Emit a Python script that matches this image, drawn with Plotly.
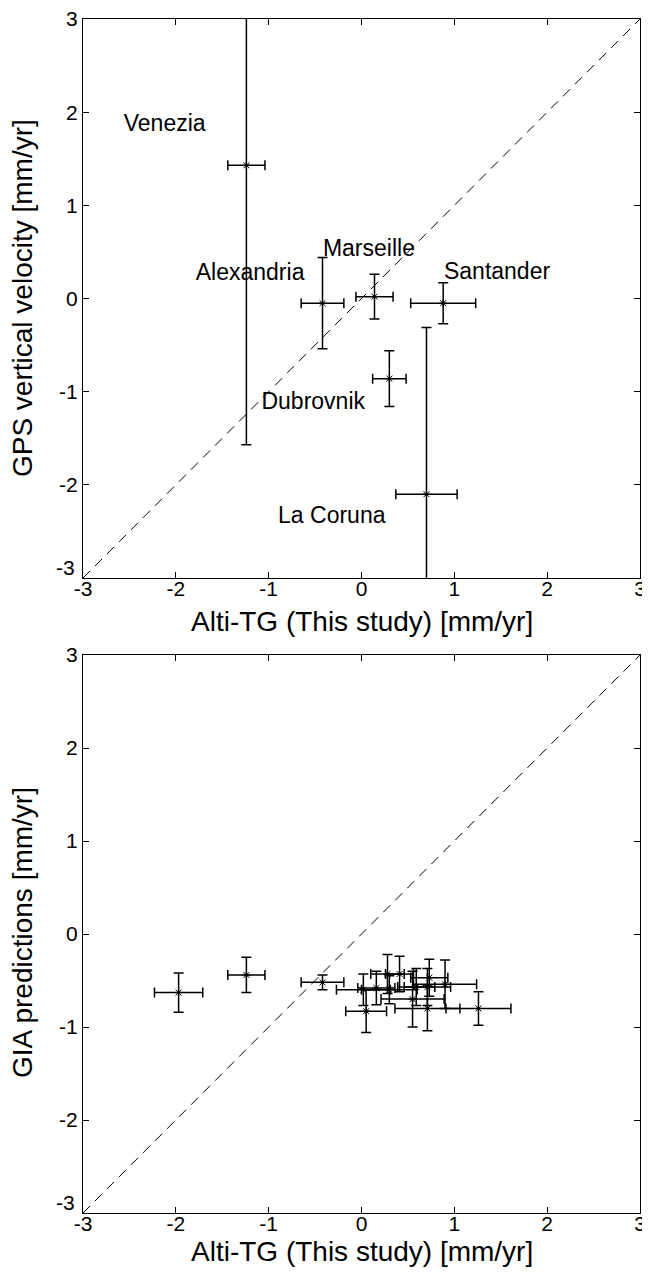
import plotly.graph_objects as go

# ---- Top panel: GPS vs Alti-TG ----
top_names = ["Venezia", "Alexandria", "Marseille", "Santander", "Dubrovnik", "La Coruna"]
top_x = [-1.24, -0.42, 0.14, 0.88, 0.30, 0.70]
top_y = [1.43, -0.05, 0.02, -0.05, -0.86, -2.10]
top_xerr = [0.20, 0.23, 0.20, 0.35, 0.18, 0.33]
top_yerr = [3.00, 0.49, 0.24, 0.22, 0.30, 1.79]
label_x = [-2.12, -1.20, 0.08, 1.46, -0.52, -0.32]
label_y = [1.86, 0.26, 0.52, 0.27, -1.12, -2.35]

# ---- Bottom panel: GIA vs Alti-TG ----
bot_x = [-1.97, -1.24, -0.42, 0.02, 0.05, 0.16, 0.28, 0.30, 0.41, 0.55, 0.59, 0.71, 0.73, 0.71, 1.26, 0.90]
bot_y = [-0.63, -0.44, -0.52, -0.60, -0.83, -0.58, -0.43, -0.60, -0.43, -0.70, -0.57, -0.57, -0.47, -0.80, -0.80, -0.54]
bot_xerr = [0.26, 0.20, 0.23, 0.29, 0.22, 0.20, 0.18, 0.30, 0.15, 0.34, 0.20, 0.25, 0.20, 0.35, 0.35, 0.34]
bot_yerr = [0.21, 0.19, 0.08, 0.17, 0.23, 0.18, 0.21, 0.15, 0.19, 0.30, 0.20, 0.20, 0.20, 0.24, 0.18, 0.26]

axis_range = [-3, 3]
ticks = [-3, -2, -1, 0, 1, 2, 3]
tick_text = ["-3", "-2", "-1", "0", "1", "2", "3"]
# y-axis lowest label is drawn raised above the corner (as in the original)
y_tick_text = [""] + tick_text[1:]
corner_label = tick_text[0]

x_title = "Alti-TG (This study) [mm/yr]"
y_title_top = "GPS vertical velocity [mm/yr]"
y_title_bot = "GIA predictions [mm/yr]"

FONT = "Arial, Liberation Sans, sans-serif"
fig = go.Figure()

def add_points(xs, ys, xe, ye, xa, ya):
    fig.add_trace(go.Scatter(
        x=xs, y=ys, mode="markers", xaxis=xa, yaxis=ya,
        marker=dict(symbol="asterisk-open", size=7, color="black",
                    line=dict(color="black", width=1)),
        error_x=dict(type="data", array=xe, visible=True, color="black",
                     thickness=1.5, width=5),
        error_y=dict(type="data", array=ye, visible=True, color="black",
                     thickness=1.5, width=5),
        showlegend=False, hoverinfo="skip"))
    fig.add_trace(go.Scatter(
        x=xs, y=ys, mode="markers", xaxis=xa, yaxis=ya,
        marker=dict(symbol="circle", size=3, color="black"),
        showlegend=False, hoverinfo="skip"))

def add_diag(xa, ya):
    fig.add_trace(go.Scatter(
        x=axis_range, y=axis_range, mode="lines", xaxis=xa, yaxis=ya,
        line=dict(color="black", width=1, dash="10px,7px"),
        showlegend=False, hoverinfo="skip"))

add_diag("x", "y")
add_points(top_x, top_y, top_xerr, top_yerr, "x", "y")
fig.add_trace(go.Scatter(
    x=label_x, y=label_y, mode="text", text=top_names, xaxis="x", yaxis="y",
    textfont=dict(family=FONT, size=23, color="black"),
    showlegend=False, hoverinfo="skip"))

add_diag("x2", "y2")
add_points(bot_x, bot_y, bot_xerr, bot_yerr, "x2", "y2")

ax_common = dict(range=axis_range, tickvals=ticks,
                 ticks="inside", ticklen=6,
                 tickcolor="black", showline=True, linecolor="black", linewidth=1,
                 mirror="ticks", showgrid=False, zeroline=False, automargin=False,
                 ticklabeloverflow="allow",
                 tickfont=dict(family=FONT, size=21, color="black"))

x_extra = dict(ticklabelstandoff=-8, ticktext=tick_text)
y_extra = dict(ticktext=y_tick_text)

title_font = dict(family=FONT, size=28, color="black")
tick_font = dict(family=FONT, size=21, color="black")

# the page body adds an 8px offset, so the figure is sized to fit the window
fig.update_layout(
    width=642, height=1267,
    margin=dict(l=75, r=10, t=11, b=62),
    plot_bgcolor="white", paper_bgcolor="white",
    xaxis=dict(domain=[0, 1], anchor="y", **ax_common, **x_extra),
    yaxis=dict(domain=[0.5318, 1], anchor="x", **ax_common, **y_extra),
    xaxis2=dict(domain=[0, 1], anchor="y2", **ax_common, **x_extra),
    yaxis2=dict(domain=[0, 0.4673], anchor="x2", **ax_common, **y_extra),
    annotations=[
        dict(text=x_title, xref="paper", yref="paper", x=0.5, y=0.4950,
             showarrow=False, font=title_font, xanchor="center", yanchor="middle"),
        dict(text=x_title, xref="paper", yref="paper", x=0.5, y=-0.0320,
             showarrow=False, font=title_font, xanchor="center", yanchor="middle"),
        dict(text=y_title_top, xref="paper", yref="paper", x=-0.1095, y=0.7663,
             showarrow=False, font=title_font, textangle=-90,
             xanchor="center", yanchor="middle"),
        dict(text=y_title_bot, xref="paper", yref="paper", x=-0.1095, y=0.2345,
             showarrow=False, font=title_font, textangle=-90,
             xanchor="center", yanchor="middle"),
        dict(text=corner_label, xref="paper", yref="y", x=0, y=axis_range[0],
             xshift=-6, yshift=11, xanchor="right", yanchor="middle",
             showarrow=False, font=tick_font),
        dict(text=corner_label, xref="paper", yref="y2", x=0, y=axis_range[0],
             xshift=-6, yshift=11, xanchor="right", yanchor="middle",
             showarrow=False, font=tick_font),
    ],
)

fig.write_html("out.html")
